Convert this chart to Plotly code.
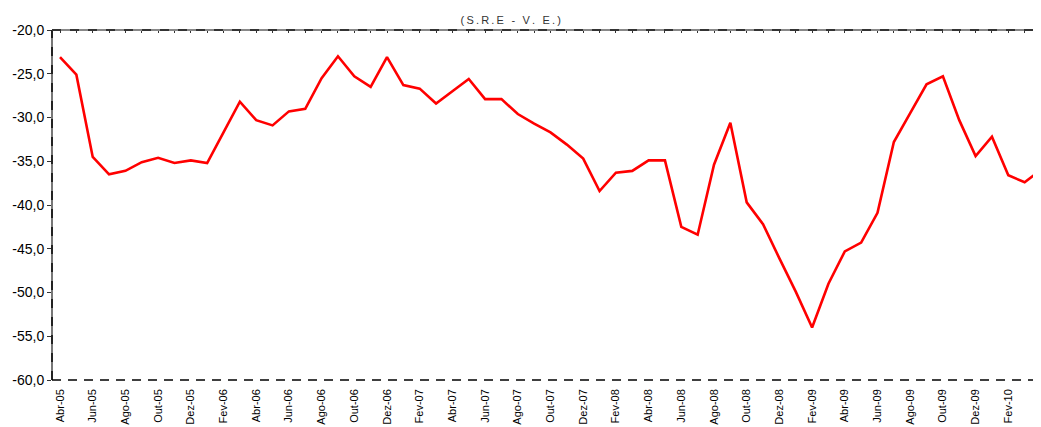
import plotly.graph_objects as go

month_names = ["Abr", "Mai", "Jun", "Jul", "Ago", "Set", "Out", "Nov", "Dez", "Jan", "Fev", "Mar"]
months = []
year = 5
for k in range(61):
    m = month_names[k % 12]
    if m == "Jan":
        year += 1
    months.append(f"{m}-{year:02d}")

values = [
    -23.1, -25.1, -34.5, -36.5, -36.1, -35.1, -34.6, -35.2, -34.9, -35.2,
    -31.7, -28.2, -30.3, -30.9, -29.3, -29.0, -25.5, -23.0, -25.3, -26.5,
    -23.1, -26.3, -26.7, -28.4, -27.0, -25.6, -27.9, -27.9, -29.6, -30.7,
    -31.7, -33.1, -34.7, -38.4, -36.3, -36.1, -34.9, -34.9, -42.5, -43.4,
    -35.4, -30.6, -39.7, -42.2, -46.1, -49.9, -54.0, -49.0, -45.3, -44.3,
    -40.9, -32.8, -29.5, -26.2, -25.3, -30.3, -34.4, -32.2, -36.6, -37.4,
    -36.0,
]

title_text = "(S.R.E - V. E.)"
y_ticks = [-60, -55, -50, -45, -40, -35, -30, -25, -20]
y_ticktext = [f"{v:.1f}".replace(".", ",") for v in y_ticks]
x_tickvals = months[::2]

spaced_title = "\u2009".join(title_text)

fig = go.Figure()
fig.add_trace(go.Scatter(
    x=months, y=values, mode="lines",
    line=dict(color="#FF0000", width=2.6),
    showlegend=False, hoverinfo="skip",
))
# invisible trace for top axis ticks
fig.add_trace(go.Scatter(
    x=months, y=values, mode="lines", xaxis="x2",
    line=dict(color="rgba(0,0,0,0)", width=0),
    showlegend=False, hoverinfo="skip",
))

fig.update_layout(
    width=1041, height=427,
    margin=dict(l=44, r=8, t=22, b=55, autoexpand=False),
    paper_bgcolor="white", plot_bgcolor="white",
    font=dict(family="Liberation Sans, Arial, sans-serif", color="#000000"),
    title=dict(
        text=spaced_title, xref="container", yref="container",
        x=0.483, xanchor="center", y=0.972, yanchor="middle",
        font=dict(size=11, color="#333333"),
    ),
    xaxis=dict(
        type="category", categoryorder="array", categoryarray=months,
        range=[-0.49, 60.0], automargin=False,
        tickmode="array", tickvals=x_tickvals, ticktext=x_tickvals,
        tickangle=-90, tickfont=dict(size=11, color="#000000"),
        ticklabelstandoff=6,
        showgrid=False, zeroline=False, showline=False, ticks="",
    ),
    xaxis2=dict(
        type="category", categoryorder="array", categoryarray=months,
        range=[-0.49, 60.0], overlaying="x", side="top", anchor="y",
        automargin=False,
        tickmode="array", tickvals=months, showticklabels=False,
        ticks="inside", ticklen=3, tickwidth=1, tickcolor="#333333",
        showgrid=False, zeroline=False, showline=False,
    ),
    yaxis=dict(
        range=[-60, -20], tickmode="array", tickvals=y_ticks, ticktext=y_ticktext,
        tickfont=dict(size=14, color="#000000"), automargin=False,
        ticks="outside", ticklen=4, tickwidth=1, tickcolor="#333333",
        showgrid=False, zeroline=False, showline=False,
    ),
    shapes=[
        # left axis line
        dict(type="line", xref="paper", yref="paper", x0=0, x1=0, y0=0, y1=1,
             line=dict(color="#777777", width=2)),
        dict(type="line", xref="paper", yref="paper", x0=0, x1=0, y0=0, y1=1,
             line=dict(color="#222222", width=2, dash="dash")),
        # top axis line
        dict(type="line", xref="paper", yref="paper", x0=0, x1=1, y0=1, y1=1,
             line=dict(color="#888888", width=2)),
        dict(type="line", xref="paper", yref="paper", x0=0, x1=1, y0=1, y1=1,
             line=dict(color="#333333", width=2, dash="dash")),
        # bottom dashed line
        dict(type="line", xref="paper", yref="paper", x0=0, x1=1, y0=0, y1=0,
             line=dict(color="#000000", width=1.5, dash="9px,7px")),
    ],
)

fig.write_html("out.html")
